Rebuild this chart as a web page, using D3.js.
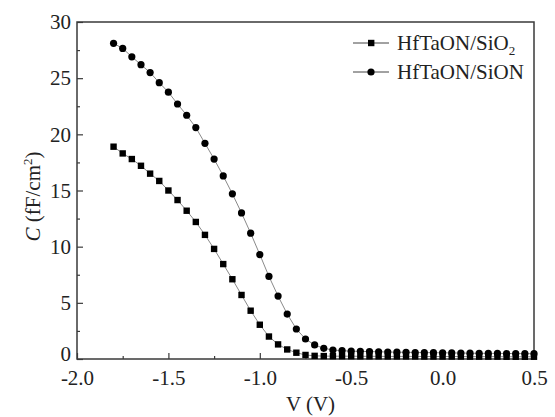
<!DOCTYPE html>
<html>
<head>
<meta charset="utf-8">
<script src="https://cdn.jsdelivr.net/npm/d3@7"></script>
<style>
  body { margin: 0; background: #fff; }
  svg text { font-family: "Liberation Serif", "Times New Roman", serif; fill: #222; }
</style>
</head>
<body>
<div id="chart"></div>
<script>
// bias voltage, step 0.05 V
var voltages = [-1.8, -1.75, -1.7, -1.65, -1.6, -1.55, -1.5, -1.45, -1.4, -1.35,
  -1.3, -1.25, -1.2, -1.15, -1.1, -1.05, -1.0, -0.95, -0.9, -0.85,
  -0.8, -0.75, -0.7, -0.65, -0.6, -0.55, -0.5, -0.45, -0.4, -0.35,
  -0.3, -0.25, -0.2, -0.15, -0.1, -0.05, 0.0, 0.05, 0.1, 0.15,
  0.2, 0.25, 0.3, 0.35, 0.4, 0.45, 0.5];

// HfTaON/SiO2 (squares)
var capSiO2 = [18.9, 18.3, 17.8, 17.2, 16.5, 15.85, 15.0, 14.15, 13.2, 12.2,
  11.05, 9.8, 8.45, 7.1, 5.7, 4.3, 3.05, 2.0, 1.3, 0.85,
  0.56, 0.36, 0.28, 0.26, 0.25, 0.25, 0.25, 0.24, 0.24, 0.24,
  0.23, 0.23, 0.23, 0.23, 0.22, 0.22, 0.22, 0.22, 0.22, 0.21,
  0.21, 0.21, 0.21, 0.2, 0.2, 0.2, 0.2];

// HfTaON/SiON (circles)
var capSiON = [28.1, 27.65, 26.9, 26.2, 25.5, 24.6, 23.75, 22.7, 21.7, 20.6,
  19.2, 17.8, 16.3, 14.7, 13.0, 11.2, 9.3, 7.35, 5.6, 4.0,
  2.67, 1.78, 1.25, 0.95, 0.8, 0.74, 0.7, 0.68, 0.66, 0.64,
  0.62, 0.61, 0.6, 0.58, 0.57, 0.56, 0.55, 0.54, 0.53, 0.52,
  0.51, 0.5, 0.5, 0.49, 0.48, 0.48, 0.47];

var seriesNames = ["HfTaON/SiO", "HfTaON/SiON"];
var xTicks = [-2.0, -1.5, -1.0, -0.5, 0.0, 0.5];
var yTicks = [0, 5, 10, 15, 20, 25, 30];

var width = 555, height = 417;
var margin = {top: 22, right: 21, bottom: 58, left: 77};
var graphWidth = width - margin.left - margin.right;
var graphHeight = height - margin.top - margin.bottom;

var svg = d3.select("#chart")
  .append("svg")
  .attr("width", width)
  .attr("height", height)
  .append("g")
  .attr("transform", "translate(" + margin.left + "," + margin.top + ")");

var x = d3.scaleLinear().domain([-2.0, 0.5]).range([0, graphWidth]);
var y = d3.scaleLinear().domain([0, 30]).range([graphHeight, 0]);

var axisColor = "#3a3a3a";

// minor ticks
var xMinor = d3.range(-1.75, 0.5, 0.5);
var yMinor = d3.range(2.5, 30, 5);

svg.append("g")
  .attr("transform", "translate(0," + graphHeight + ")")
  .call(d3.axisBottom(x).tickValues(xMinor).tickSize(-3).tickFormat(""))
  .call(g => g.select(".domain").remove())
  .selectAll("line").attr("stroke", axisColor).attr("stroke-width", 1.2);

svg.append("g")
  .call(d3.axisLeft(y).tickValues(yMinor).tickSize(-3).tickFormat(""))
  .call(g => g.select(".domain").remove())
  .selectAll("line").attr("stroke", axisColor).attr("stroke-width", 1.2);

// major ticks + labels
var xAxis = svg.append("g")
  .attr("transform", "translate(0," + graphHeight + ")")
  .call(d3.axisBottom(x).tickValues(xTicks).tickSizeInner(-6).tickSizeOuter(0)
    .tickPadding(11).tickFormat(d3.format(".1f")));
xAxis.select(".domain").remove();
xAxis.selectAll("line").attr("stroke", axisColor).attr("stroke-width", 1.2);
xAxis.selectAll("text").style("font-size", "21px").attr("fill", "#222")
  .text(d => d3.format(".1f")(d).replace("−", "-"));

var yAxis = svg.append("g")
  .call(d3.axisLeft(y).tickValues(yTicks).tickSizeInner(-6).tickSizeOuter(0)
    .tickPadding(6));
yAxis.select(".domain").remove();
yAxis.selectAll("line").attr("stroke", axisColor).attr("stroke-width", 1.2);
yAxis.selectAll("text").style("font-size", "21px").attr("fill", "#222");
// the "0" label sits a little higher so it clears "-2.0"
yAxis.selectAll("text").filter(d => d === 0).attr("dy", "0.05em");

// frame
svg.append("rect")
  .attr("width", graphWidth)
  .attr("height", graphHeight)
  .attr("fill", "none")
  .attr("stroke", axisColor)
  .attr("stroke-width", 1.5);

// axis titles
var ylab = svg.append("text")
  .attr("transform", "translate(" + (-37) + "," + (graphHeight / 2 + 6) + ") rotate(-90)")
  .style("text-anchor", "middle")
  .style("font-size", "21px");
ylab.append("tspan").style("font-style", "italic").text("C");
ylab.append("tspan").text(" (fF/cm");
ylab.append("tspan").attr("dy", -8).style("font-size", "13px").text("2");
ylab.append("tspan").attr("dy", 8).text(")");

svg.append("text")
  .attr("x", graphWidth / 2 + 5)
  .attr("y", graphHeight + 52)
  .style("text-anchor", "middle")
  .style("font-size", "21px")
  .text("V (V)");

// data lines
var lineColor = "#8a8a8a";
var line = d3.line()
  .x((d, i) => x(voltages[i]))
  .y(d => y(d));

svg.append("path")
  .datum(capSiO2)
  .attr("d", line)
  .attr("fill", "none")
  .attr("stroke", lineColor)
  .attr("stroke-width", 1);

svg.append("path")
  .datum(capSiON)
  .attr("d", line)
  .attr("fill", "none")
  .attr("stroke", lineColor)
  .attr("stroke-width", 1);

// markers
svg.selectAll(".sq")
  .data(capSiO2)
  .enter()
  .append("rect")
  .attr("class", "sq")
  .attr("x", (d, i) => x(voltages[i]) - 3.2)
  .attr("y", d => y(d) - 3.2)
  .attr("width", 6.4)
  .attr("height", 6.4)
  .attr("fill", "#000");

svg.selectAll(".circ")
  .data(capSiON)
  .enter()
  .append("circle")
  .attr("class", "circ")
  .attr("cx", (d, i) => x(voltages[i]))
  .attr("cy", d => y(d))
  .attr("r", 3.6)
  .attr("fill", "#000");

// legend
var legend = svg.append("g")
  .attr("transform", "translate(" + (353 - margin.left) + "," + (43 - margin.top) + ")");

[0, 1].forEach(function(i) {
  var g = legend.append("g").attr("transform", "translate(0," + (i * 29) + ")");
  g.append("line")
    .attr("x1", 0).attr("x2", 36).attr("y1", 0).attr("y2", 0)
    .attr("stroke", "#444").attr("stroke-width", 1);
  if (i === 0) {
    g.append("rect").attr("x", 15).attr("y", -3.2).attr("width", 6.4).attr("height", 6.4).attr("fill", "#000");
  } else {
    g.append("circle").attr("cx", 18).attr("cy", 0).attr("r", 3.6).attr("fill", "#000");
  }
  var t = g.append("text")
    .attr("x", 44)
    .attr("y", 7)
    .style("font-size", "21px")
    .text(seriesNames[i]);
  if (i === 0) {
    t.append("tspan").attr("dy", 5).style("font-size", "13px").text("2");
  }
});
</script>
</body>
</html>
